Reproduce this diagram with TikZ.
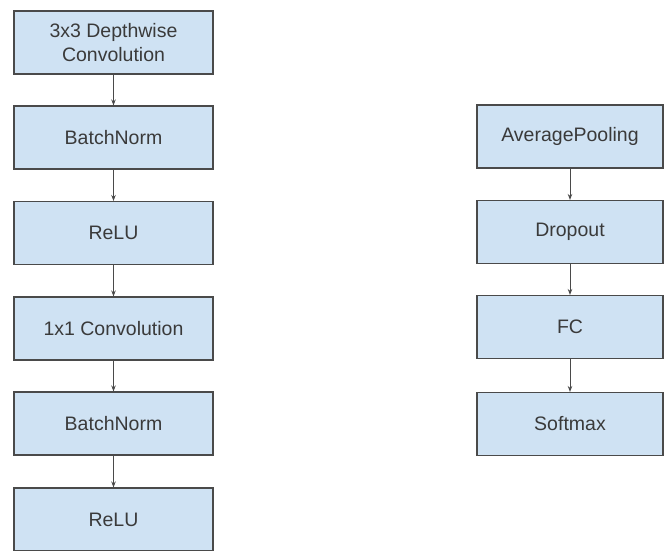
\documentclass[tikz,border=0pt]{standalone}
\usepackage{fontspec}
\setmainfont{Liberation Sans}
\usetikzlibrary{arrows.meta}
\definecolor{boxfill}{HTML}{CFE2F3}
\definecolor{boxline}{HTML}{4A4A4A}
\definecolor{labeltext}{HTML}{3A3A3A}
\begin{document}
\begin{tikzpicture}[x=1pt,y=-1pt,
  layer/.style={draw=boxline, fill=boxfill, line width=1.1pt, text=labeltext,
    font=\fontsize{19.5}{24}\selectfont, align=center,
    minimum height=63pt, inner sep=0pt},
  leftbox/.style={layer, minimum width=199pt},
  rightbox/.style={layer, minimum width=186pt},
  flow/.style={draw=boxline, line width=0.9pt, -{Stealth[length=6pt,width=4.5pt]}}]
\useasboundingbox (0,0) rectangle (665,550);
\clip (0,0) rectangle (665,550);

% depthwise separable block
\node[leftbox] (dw)  at (113.5,42.5)  {3x3 Depthwise\\Convolution};
\node[leftbox] (bn1) at (113.5,137.5) {BatchNorm};
\node[leftbox] (re1) at (113.5,233)   {ReLU};
\node[leftbox] (pw)  at (113.5,328.5) {1x1 Convolution};
\node[leftbox] (bn2) at (113.5,423.5) {BatchNorm};
\node[leftbox] (re2) at (113.5,519.5) {ReLU};

\draw[flow] (dw)  -- (bn1);
\draw[flow] (bn1) -- (re1);
\draw[flow] (re1) -- (pw);
\draw[flow] (pw)  -- (bn2);
\draw[flow] (bn2) -- (re2);

% classifier head
\node[rightbox] (avg) at (570,136.5) {AveragePooling};
\node[rightbox] (drp) at (570,232)   {Dropout};
\node[rightbox] (fc)  at (570,327)   {FC};
\node[rightbox] (sm)  at (570,424)   {Softmax};

\draw[flow] (avg) -- (drp);
\draw[flow] (drp) -- (fc);
\draw[flow] (fc)  -- (sm);
\end{tikzpicture}
\end{document}
